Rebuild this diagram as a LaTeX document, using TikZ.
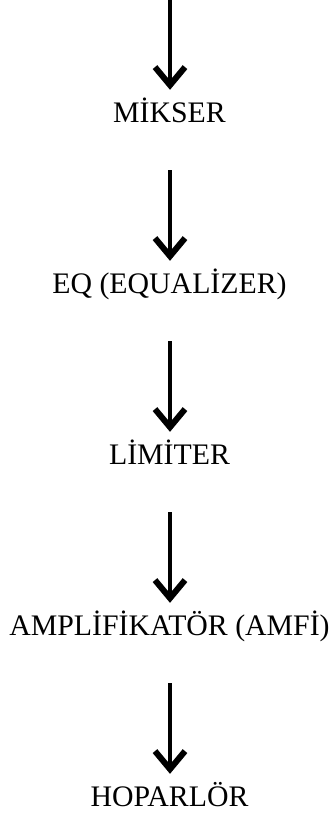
\documentclass[tikz,border=0pt]{standalone}
\usepackage{fontspec}
\setmainfont{Liberation Serif}
\usetikzlibrary{arrows.meta}
\tikzset{
  x=1bp, y=-1bp,
  label/.style={font=\fontsize{29.8bp}{35bp}\selectfont, anchor=base, inner sep=0pt,
    text height=20bp, text depth=6bp},
  flow/.style={line width=4.5bp, line cap=butt,
    -{Straight Barb[length=18bp, width=30bp, line width=6bp, sharp]},
    shorten <=42bp, shorten >=12bp}
}
\begin{document}
\begin{tikzpicture}
\useasboundingbox (0,0) rectangle (330,816);
\coordinate (start) at (170,-42);
\node[label] (mikser) at (169.5,122) {MİKSER};
\node[label] (eq) at (169.5,293) {EQ (EQUALİZER)};
\node[label] (limiter) at (169.5,464) {LİMİTER};
\node[label] (amfi) at (169.5,635) {AMPLİFİKATÖR (AMFİ)};
\node[label] (hoparlor) at (169.5,806) {HOPARLÖR};
\draw[flow] (start) -- (mikser.north -| start);
\draw[flow] (mikser.south -| start) -- (eq.north -| start);
\draw[flow] (eq.south -| start) -- (limiter.north -| start);
\draw[flow] (limiter.south -| start) -- (amfi.north -| start);
\draw[flow] (amfi.south -| start) -- (hoparlor.north -| start);
\end{tikzpicture}
\end{document}
